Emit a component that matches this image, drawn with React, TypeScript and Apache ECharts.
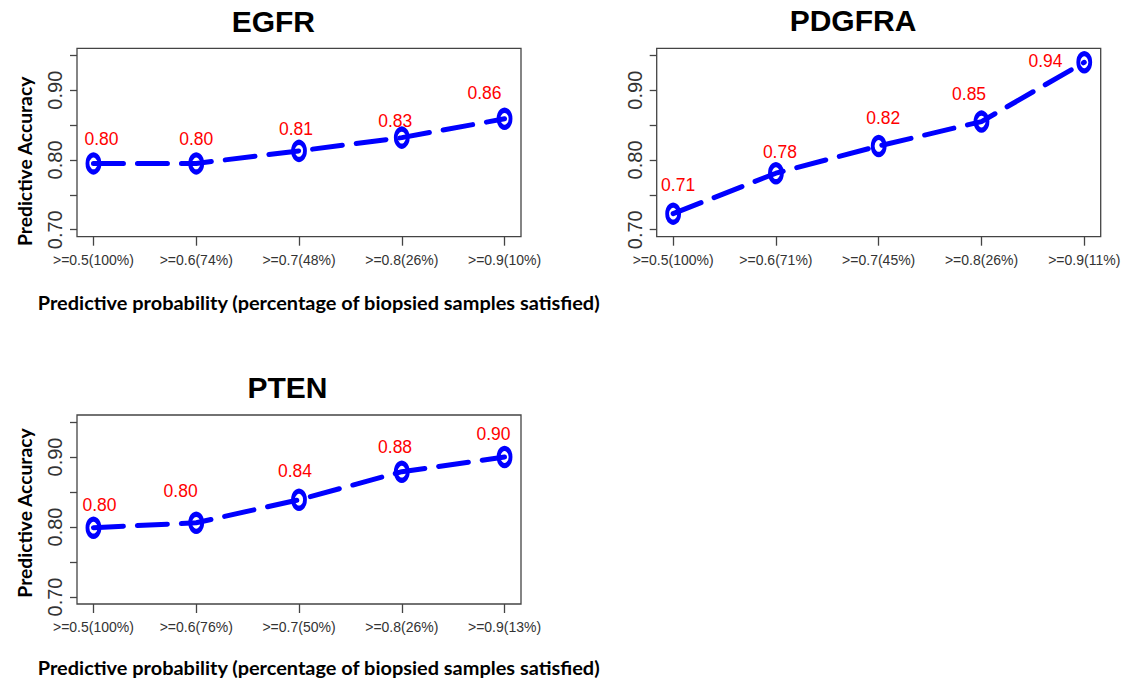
import React, { useEffect, useRef } from "react";
import * as echarts from "echarts";

// ---------- data ----------
const panelTitles = ["EGFR", "PDGFRA", "PTEN"];

const categoriesEGFR = [">=0.5(100%)", ">=0.6(74%)", ">=0.7(48%)", ">=0.8(26%)", ">=0.9(10%)"];
const categoriesPDGFRA = [">=0.5(100%)", ">=0.6(71%)", ">=0.7(45%)", ">=0.8(26%)", ">=0.9(11%)"];
const categoriesPTEN = [">=0.5(100%)", ">=0.6(76%)", ">=0.7(50%)", ">=0.8(26%)", ">=0.9(13%)"];

const accuracyEGFR = [0.795, 0.795, 0.813, 0.832, 0.859];
const accuracyPDGFRA = [0.723, 0.781, 0.82, 0.855, 0.94];
const accuracyPTEN = [0.799, 0.806, 0.839, 0.879, 0.9];

const labelsEGFR = ["0.80", "0.80", "0.81", "0.83", "0.86"];
const labelsPDGFRA = ["0.71", "0.78", "0.82", "0.85", "0.94"];
const labelsPTEN = ["0.80", "0.80", "0.84", "0.88", "0.90"];

const yTickValues = [0.7, 0.75, 0.8, 0.85, 0.9, 0.95];
const yLabelValues = [0.7, 0.8, 0.9];

const yAxisTitle = "Predictive Accuracy";
const xAxisTitle = "Predictive probability (percentage of biopsied samples satisfied)";

// ---------- layout (pixels) ----------
const grids = [
  { left: 77, top: 48.3, width: 444, height: 188.4 },
  { left: 656.7, top: 48.3, width: 444, height: 188.4 },
  { left: 77, top: 415, width: 444, height: 189 },
];
const labelOffsets = [
  [[8, -24.5], [0, -24.5], [-3, -22], [-6.5, -17], [-20, -26]],
  [[5, -29], [4, -21.6], [4.5, -28], [-12.4, -27.7], [-38.7, -1]],
  [[6, -23], [-15.6, -31.4], [-4, -29], [-6.7, -25], [-11, -22.6]],
];
const titlePos = [
  [273.3, 21],
  [853, 20],
  [287.5, 387.5],
];

function measure(font: string, text: string) {
  const c = document.createElement("canvas").getContext("2d")!;
  c.font = font;
  return c.measureText(text).width;
}

export default function App() {
  const ref = useRef<HTMLDivElement>(null);

  useEffect(() => {
    if (!ref.current) return;
    const chart = echarts.init(ref.current, undefined, { renderer: "svg" });

    // tick-label font: condensed if available
    const sample = ">=0.5(100%)";
    const narrowA = measure("16px 'Liberation Sans Narrow', monospace", sample);
    const narrowB = measure("16px monospace", sample);
    const narrowOK = Math.abs(narrowA - narrowB) > 0.5;
    const xFamily = narrowOK ? "Liberation Sans Narrow" : "Liberation Sans";
    const xSize = narrowOK ? (16 * 78) / measure(`16px '${xFamily}'`, sample) : 14;

    const titleFont = "bold 19px Lato";
    const xTitleScale = 563 / measure(titleFont, xAxisTitle);
    const yTitleScale = 170 / measure(titleFont, yAxisTitle);

    const cats = [categoriesEGFR, categoriesPDGFRA, categoriesPTEN];
    const vals = [accuracyEGFR, accuracyPDGFRA, accuracyPTEN];
    const labs = [labelsEGFR, labelsPDGFRA, labelsPTEN];

    const xAxes = cats.map((c, i) => ({
      type: "value",
      gridIndex: i,
      min: 0.84,
      max: c.length + 0.16,
      axisLine: { show: false },
      splitLine: { show: false },
      axisTick: {
        show: true,
        length: 9,
        customValues: c.map((_, k) => k + 1),
        lineStyle: { color: "#444", width: 1.3 },
      },
      axisLabel: {
        show: true,
        customValues: c.map((_, k) => k + 1),
        formatter: (v: number) => c[Math.round(v) - 1] ?? "",
        fontFamily: xFamily,
        fontSize: xSize,
        color: "#333",
        margin: 16,
      },
    }));

    const yAxes = grids.map((_, i) => ({
      type: "value",
      gridIndex: i,
      min: 0.69,
      max: 0.96,
      axisLine: { show: false },
      splitLine: { show: false },
      axisTick: {
        show: true,
        length: 7,
        customValues: yTickValues,
        lineStyle: { color: "#444", width: 1.3 },
      },
      axisLabel: {
        show: true,
        customValues: yLabelValues,
        formatter: (v: number) => v.toFixed(2),
        rotate: 90,
        fontFamily: "Liberation Sans",
        fontSize: 20,
        color: "#333",
        margin: 12,
      },
    }));

    const series = vals.map((v, i) => ({
      type: "line",
      xAxisIndex: i,
      yAxisIndex: i,
      data: v.map((y, k) => ({
        value: [k + 1, y],
        label: { offset: labelOffsets[i][k] },
      })),
      symbol: "circle",
      symbolSize: [12, 17],
      itemStyle: { color: "rgba(0,0,0,0)", borderColor: "#0000ff", borderWidth: 4.5 },
      lineStyle: { color: "#0000ff", width: 5, type: [30, 14], cap: "round" },
      label: {
        show: true,
        position: "inside",
        formatter: (p: any) => labs[i][p.dataIndex],
        color: "#ff0000",
        fontFamily: "Liberation Sans",
        fontSize: 17.5,
      },
      emphasis: { disabled: true },
    }));

    const graphics: any[] = [];
    panelTitles.forEach((t, i) => {
      graphics.push({
        type: "text",
        x: titlePos[i][0],
        y: titlePos[i][1],
        style: {
          text: t,
          fontFamily: "Liberation Sans",
          fontWeight: "bold",
          fontSize: 30,
          fill: "#000",
          align: "center",
          verticalAlign: "middle",
        },
      });
    });
    [302.4, 667.4].forEach((y) => {
      graphics.push({
        type: "text",
        x: 318.7,
        y,
        scaleX: xTitleScale,
        style: {
          text: xAxisTitle,
          fontFamily: "Lato",
          fontWeight: "bold",
          fontSize: 19,
          fill: "#000",
          align: "center",
          verticalAlign: "middle",
        },
      });
    });
    [161.3, 513].forEach((y) => {
      graphics.push({
        type: "text",
        x: 24.1,
        y,
        rotation: Math.PI / 2,
        scaleX: yTitleScale,
        style: {
          text: yAxisTitle,
          fontFamily: "Lato",
          fontWeight: "bold",
          fontSize: 19,
          fill: "#000",
          align: "center",
          verticalAlign: "middle",
        },
      });
    });

    chart.setOption({
      animation: false,
      backgroundColor: "#ffffff",
      grid: grids.map((g) => ({
        ...g,
        show: true,
        borderColor: "#444",
        borderWidth: 1.3,
        backgroundColor: "transparent",
        containLabel: false,
      })),
      xAxis: xAxes,
      yAxis: yAxes,
      series,
      graphic: graphics,
    });

    return () => chart.dispose();
  }, []);

  return (
    <div
      ref={ref}
      style={{ position: "fixed", left: 0, top: 0, width: 1130, height: 681, background: "#fff" }}
    />
  );
}
